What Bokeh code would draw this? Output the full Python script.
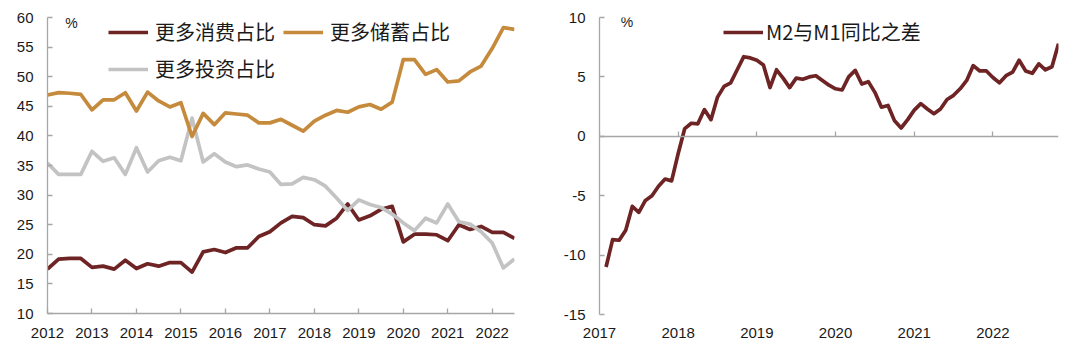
from bokeh.plotting import figure
from bokeh.layouts import row
from bokeh.models import Range1d, FixedTicker, LinearAxis, Legend, LegendItem, Label, ColumnDataSource
from bokeh.embed import file_html
from bokeh.resources import INLINE

# ---------------- Left chart: quarterly survey shares (2012Q1 - 2022Q3) ----------------
q_years = [y for y in range(2012, 2023) for _ in range(4)][:43]
q_nums = [q for _ in range(2012, 2023) for q in (1, 2, 3, 4)][:43]
consume = [17.5, 19.2, 19.3, 19.3, 17.8, 18.0, 17.5, 19.0, 17.6, 18.4, 18.0, 18.6, 18.6, 17.0,
           20.4, 20.8, 20.3, 21.1, 21.1, 23.0, 23.8,
           25.3, 26.4, 26.2, 25.0, 24.8, 26.1, 28.5, 25.8, 26.5, 27.6, 28.1, 22.1, 23.4, 23.4,
           23.3, 22.3, 25.0, 24.2, 24.7, 23.7, 23.7, 22.7]
save = [46.9, 47.3, 47.2, 47.0, 44.4, 46.1, 46.1, 47.3, 44.2, 47.4, 45.9, 44.9, 45.6, 39.9,
        43.8, 41.9, 43.9, 43.7, 43.5, 42.2, 42.2,
        42.8, 41.8, 40.8, 42.5, 43.5, 44.3, 44.0, 44.9, 45.3, 44.5, 45.7, 52.9, 52.9, 50.4,
        51.2, 49.1, 49.3, 50.8, 51.8, 54.8, 58.3, 58.0]
invest = [35.4, 33.5, 33.5, 33.5, 37.4, 35.7, 36.3, 33.5, 38.0, 33.9, 35.8, 36.4, 35.8, 43.0,
          35.6, 37.0, 35.6, 34.8, 35.1, 34.4, 33.9,
          31.8, 31.9, 33.0, 32.6, 31.5, 29.5, 27.4, 29.2, 28.4, 27.9, 26.8, 25.3, 24.0, 26.1,
          25.3, 28.5, 25.5, 25.1, 23.8, 21.9, 17.7, 19.2]
left_years = [2012, 2013, 2014, 2015, 2016, 2017, 2018, 2019, 2020, 2021, 2022]
left_yticks = [10, 15, 20, 25, 30, 35, 40, 45, 50, 55, 60]
left_names = ["更多消费占比", "更多储蓄占比", "更多投资占比"]

# ---------------- Right chart: M2 - M1 YoY gap, monthly (2017-02 .. 2022-11) ----------------
m_years = [y for y in range(2017, 2023) for _ in range(12)][1:71]
m_months = [m for _ in range(2017, 2023) for m in range(1, 13)][1:71]
m2_m1 = [-11.0, -8.7, -8.75, -7.9, -5.9, -6.4, -5.4, -5.0, -4.2, -3.6,
         -3.75, -1.45, 0.65, 1.1, 1.05, 2.25, 1.4, 3.3, 4.2, 4.5,
         5.6, 6.7, 6.6, 6.4, 6.0, 4.1, 5.6, 4.9, 4.1, 4.9,
         4.8, 5.0, 5.1, 4.7, 4.3, 4.0, 3.9, 5.0, 5.55, 4.4,
         4.6, 3.7, 2.45, 2.6, 1.3, 0.7, 1.4, 2.2, 2.75, 2.3,
         1.9, 2.3, 3.1, 3.45, 4.0, 4.7, 5.95, 5.5, 5.5, 4.95,
         4.5, 5.1, 5.4, 6.4, 5.5, 5.3, 6.1, 5.6, 5.85, 7.8]
right_years = [2017, 2018, 2019, 2020, 2021, 2022]
right_yticks = [-15, -10, -5, 0, 5, 10]
right_name = "M2与M1同比之差"

DARK = "#6E2424"
GOLD = "#C68A3C"
LGRAY = "#C3C3C3"
AXIS = "#A6A6A6"
TXT = "#1A1A1A"
NUMFONT = "Liberation Sans"
CJK = "Noto Sans CJK SC"

left_src = ColumnDataSource(dict(
    x=[y + (q - 1) / 4 for y, q in zip(q_years, q_nums)],
    consume=consume, save=save, invest=invest))
right_src = ColumnDataSource(dict(
    x=[y + (m - 1) / 12 for y, m in zip(m_years, m_months)], v=m2_m1))


def style_axis(ax, ticks, overrides=True):
    ax.ticker = FixedTicker(ticks=ticks)
    if overrides:
        ax.major_label_overrides = {t: str(t) for t in ticks}
    ax.axis_line_color = AXIS
    ax.axis_line_width = 1.3
    ax.major_tick_line_color = AXIS
    ax.major_tick_line_width = 1.3
    ax.major_tick_in = 5
    ax.major_tick_out = 0
    ax.minor_tick_line_color = None
    ax.major_label_text_font = NUMFONT
    ax.major_label_text_font_size = "15px"
    ax.major_label_text_color = TXT


# ---------------- Left figure ----------------
p1 = figure(frame_width=467, frame_height=296, min_border_left=47, min_border_right=26,
            min_border_top=16, min_border_bottom=37,
            x_range=Range1d(2012, 2022.5), y_range=Range1d(10, 60),
            output_backend="svg", toolbar_location=None)
p1.grid.visible = False
p1.outline_line_color = None
p1.background_fill_color = "white"
p1.border_fill_color = "white"

r_c = p1.line("x", "consume", source=left_src, line_color=DARK, line_width=3.7, line_join="round")
r_i = p1.line("x", "invest", source=left_src, line_color=LGRAY, line_width=3.7, line_join="round")
r_s = p1.line("x", "save", source=left_src, line_color=GOLD, line_width=3.7, line_join="round")

style_axis(p1.xaxis[0], left_years)
p1.xaxis[0].major_label_standoff = 14
style_axis(p1.yaxis[0], left_yticks)
p1.yaxis[0].major_label_standoff = 14

p1.add_layout(Label(x=2012.54, y=59.0, text="%", text_font=NUMFONT, text_font_size="14px",
                    text_color=TXT, text_align="center", text_baseline="middle"))

leg1 = Legend(items=[LegendItem(label=left_names[0], renderers=[r_c]),
                     LegendItem(label=left_names[1], renderers=[r_s]),
                     LegendItem(label=left_names[2], renderers=[r_i])],
              location=(61, 230), orientation="horizontal", ncols=2,
              glyph_width=40, glyph_height=20, label_height=20, label_standoff=7,
              spacing=8, padding=0, margin=0,
              label_text_font=CJK, label_text_font_size="20px", label_text_color=TXT,
              border_line_color=None, background_fill_alpha=0)
p1.add_layout(leg1)

# ---------------- Right figure ----------------
p2 = figure(frame_width=459, frame_height=297, min_border_left=59, min_border_right=22,
            min_border_top=17, min_border_bottom=35,
            x_range=Range1d(2017, 2017 + 70 / 12), y_range=Range1d(-15, 10),
            output_backend="svg", toolbar_location=None)
p2.grid.visible = False
p2.outline_line_color = None
p2.background_fill_color = "white"
p2.border_fill_color = "white"

r_m = p2.line("x", "v", source=right_src, line_color=DARK, line_width=3.7, line_join="round")

style_axis(p2.yaxis[0], right_yticks)
p2.yaxis[0].major_label_standoff = 14

bx = p2.xaxis[0]
style_axis(bx, right_years)
bx.axis_line_color = None
bx.major_tick_line_color = None
bx.major_label_standoff = 13

zero_axis = LinearAxis(fixed_location=0)
style_axis(zero_axis, right_years, overrides=False)
zero_axis.major_label_overrides = {t: "" for t in right_years}
zero_axis.major_label_text_font_size = "1px"
zero_axis.major_label_standoff = 0
zero_axis.major_tick_in = 0
zero_axis.major_tick_out = 5
p2.add_layout(zero_axis, "above")

p2.add_layout(Label(x=2017.35, y=9.6, text="%", text_font=NUMFONT, text_font_size="14px",
                    text_color=TXT, text_align="center", text_baseline="middle"))

leg2 = Legend(items=[LegendItem(label=right_name, renderers=[r_m])],
              location=(124, 268), glyph_width=40, glyph_height=20, label_height=20,
              label_standoff=3, padding=0, margin=0,
              label_text_font=CJK, label_text_font_size="20px", label_text_color=TXT,
              border_line_color=None, background_fill_alpha=0)
p2.add_layout(leg2)

layout = row(p1, p2)
open("out.html", "w").write(file_html(layout, INLINE))
